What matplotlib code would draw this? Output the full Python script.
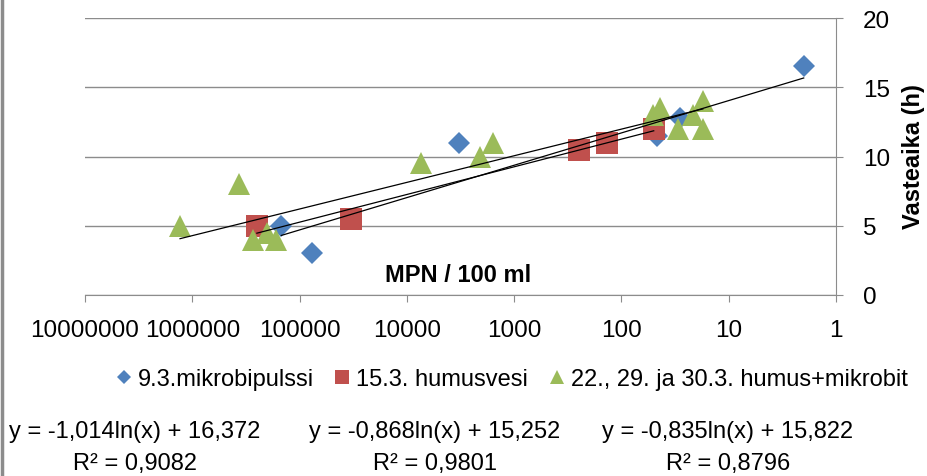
import numpy as np
import matplotlib
matplotlib.use('Agg')
import matplotlib.pyplot as plt
from matplotlib.lines import Line2D
from matplotlib.ticker import FixedLocator, NullLocator, FuncFormatter

plt.rcParams['font.family'] = ['Liberation Sans', 'DejaVu Sans']

# data
blue_x = [148000, 76000, 3300, 47, 28.5, 2.0]
blue_y = [5.0, 3.0, 11.0, 11.5, 12.8, 16.5]

red_x = [250000, 33000, 249, 136, 50]
red_y = [5.0, 5.5, 10.5, 11.0, 12.0]

green_x = [1300000, 367000, 272000, 201000, 166000, 7400, 2080, 1580,
           51, 44, 30, 21.6, 17.4, 17.4]
green_y = [5.0, 8.0, 4.0, 4.5, 4.0, 9.5, 10.0, 11.0,
           13.0, 13.5, 12.0, 13.0, 14.0, 12.0]

labels = ['9.3.mikrobipulssi', '15.3. humusvesi', '22., 29. ja 30.3. humus+mikrobit']
fit_a = [-1.014, -0.868, -0.835]
fit_b = [16.372, 15.252, 15.822]
fit_r2 = ['0,9082', '0,9801', '0,8796']

x_ticks = [1e7, 1e6, 1e5, 1e4, 1e3, 1e2, 1e1, 1]
y_ticks = [0, 5, 10, 15, 20]

colors = ['#4F81BD', '#C0504D', '#9BBB59']
markers = ['D', 's', '^']
msizes = [11.5, 16, 16.5]

grid_c = '#8c8c8c'

fig = plt.figure(figsize=(9.28, 4.77), dpi=100)
ax = fig.add_axes([85 / 928, 1 - 296 / 477, (836 - 85) / 928, (296 - 19) / 477])

series = [(blue_x, blue_y), (red_x, red_y), (green_x, green_y)]
handles = []
for i, (xs, ys) in enumerate(series):
    h, = ax.plot(xs, ys, linestyle='none', marker=markers[i], ms=msizes[i],
                 color=colors[i], markeredgewidth=0, label=labels[i], zorder=3)
    handles.append(h)

# logarithmic trend lines
for i, (xs, ys) in enumerate(series):
    xx = np.geomspace(min(xs), max(xs), 60)
    ax.plot(xx, fit_a[i] * np.log(xx) + fit_b[i], color='black', lw=0.9, zorder=4)

ax.set_xscale('log')
ax.set_xlim(1e7, 1)
ax.set_ylim(0, 20)
ax.xaxis.set_major_locator(FixedLocator(x_ticks))
ax.xaxis.set_minor_locator(NullLocator())
ax.xaxis.set_major_formatter(FuncFormatter(lambda v, p: '%d' % round(v)))
ax.set_yticks(y_ticks)
ax.yaxis.tick_right()

for s in ['top', 'left']:
    ax.spines[s].set_visible(False)
ax.spines['bottom'].set_color(grid_c)
ax.spines['right'].set_color(grid_c)
ax.tick_params(axis='x', direction='out', length=5, color=grid_c, labelsize=17.5, pad=12.5)
ax.tick_params(axis='y', direction='out', length=5, color=grid_c, labelsize=17.5, pad=14.5)
ax.grid(axis='y', color=grid_c, lw=1.0)
ax.set_axisbelow(True)

ax.text((458 - 85) / (836 - 85), (296 - 275) / (296 - 19), 'MPN / 100 ml', fontsize=17,
        fontweight='bold', ha='center', va='center', transform=ax.transAxes)

fig.text(914 / 928, 1 - 157 / 477, 'Vasteaika (h)', rotation=90, fontsize=17,
         fontweight='bold', ha='center', va='center')

fig.legend(handles=handles, loc='center', bbox_to_anchor=(512 / 928, 1 - 380 / 477),
           ncol=3, frameon=False, fontsize=17, handlelength=0.6, handletextpad=0.3,
           columnspacing=0.9, markerscale=0.6)

eq_x = [135, 435, 728]
for i in range(3):
    fig.text(eq_x[i] / 928, 1 - 432 / 477,
             'y = %sln(x) + %s' % (('%.3f' % fit_a[i]).replace('.', ','),
                                   ('%.3f' % fit_b[i]).replace('.', ',')),
             fontsize=17, ha='center', va='center')
    fig.text(eq_x[i] / 928, 1 - 464 / 477, 'R² = ' + fit_r2[i],
             fontsize=17, ha='center', va='center')

fig.add_artist(Line2D([0.002, 0.002], [0, 1], color='#8c8c8c', lw=2.5))

fig.savefig('out.png', dpi=100)
